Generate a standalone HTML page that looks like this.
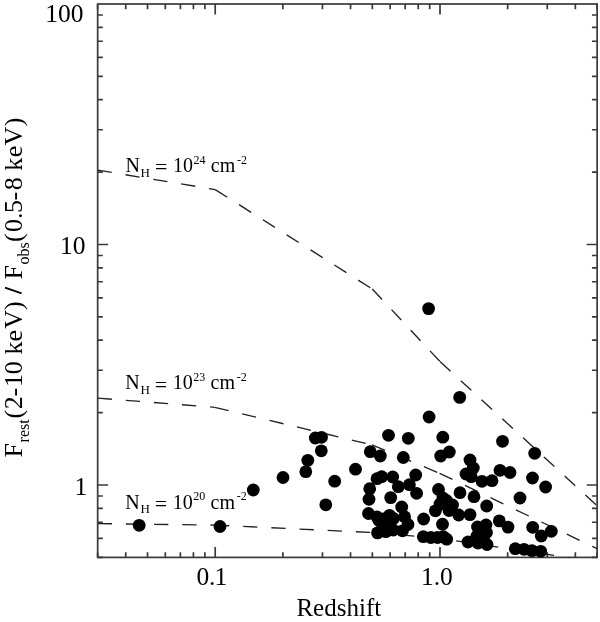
<!DOCTYPE html><html><head><meta charset="utf-8"><style>html,body{margin:0;padding:0;background:#fff;}svg{display:block;font-family:"Liberation Serif",serif;will-change:transform;}</style></head><body><div id="w"><svg width="600" height="622" viewBox="0 0 600 622"><defs><clipPath id="c"><rect x="97.65685806098008" y="4.0" width="499.4715989137569" height="553.3977139571875"/></clipPath></defs><rect width="600" height="622" fill="#fff"/><rect x="97.66" y="4.00" width="499.47" height="553.40" fill="none" stroke="#3a3a3a" stroke-width="1.7"/><path d="M97.66 557.40h5.2 M597.13 557.40h-5.2 M97.66 538.35h5.2 M597.13 538.35h-5.2 M97.66 522.25h5.2 M597.13 522.25h-5.2 M97.66 508.31h5.2 M597.13 508.31h-5.2 M97.66 496.00h5.2 M597.13 496.00h-5.2 M97.66 485.00h10.5 M597.13 485.00h-10.5 M97.66 412.60h5.2 M597.13 412.60h-5.2 M97.66 370.25h5.2 M597.13 370.25h-5.2 M97.66 340.20h5.2 M597.13 340.20h-5.2 M97.66 316.90h5.2 M597.13 316.90h-5.2 M97.66 297.85h5.2 M597.13 297.85h-5.2 M97.66 281.75h5.2 M597.13 281.75h-5.2 M97.66 267.81h5.2 M597.13 267.81h-5.2 M97.66 255.50h5.2 M597.13 255.50h-5.2 M97.66 244.50h10.5 M597.13 244.50h-10.5 M97.66 172.10h5.2 M597.13 172.10h-5.2 M97.66 129.75h5.2 M597.13 129.75h-5.2 M97.66 99.70h5.2 M597.13 99.70h-5.2 M97.66 76.40h5.2 M597.13 76.40h-5.2 M97.66 57.35h5.2 M597.13 57.35h-5.2 M97.66 41.25h5.2 M597.13 41.25h-5.2 M97.66 27.31h5.2 M597.13 27.31h-5.2 M97.66 15.00h5.2 M597.13 15.00h-5.2 M97.66 557.40v-5.2 M97.66 4.00v5.2 M125.74 557.40v-5.2 M125.74 4.00v5.2 M147.53 557.40v-5.2 M147.53 4.00v5.2 M165.33 557.40v-5.2 M165.33 4.00v5.2 M180.38 557.40v-5.2 M180.38 4.00v5.2 M193.41 557.40v-5.2 M193.41 4.00v5.2 M204.91 557.40v-5.2 M204.91 4.00v5.2 M215.20 557.40v-10.5 M215.20 4.00v10.5 M282.87 557.40v-5.2 M282.87 4.00v5.2 M322.46 557.40v-5.2 M322.46 4.00v5.2 M350.54 557.40v-5.2 M350.54 4.00v5.2 M372.33 557.40v-5.2 M372.33 4.00v5.2 M390.13 557.40v-5.2 M390.13 4.00v5.2 M405.18 557.40v-5.2 M405.18 4.00v5.2 M418.21 557.40v-5.2 M418.21 4.00v5.2 M429.71 557.40v-5.2 M429.71 4.00v5.2 M440.00 557.40v-10.5 M440.00 4.00v10.5 M507.67 557.40v-5.2 M507.67 4.00v5.2 M547.26 557.40v-5.2 M547.26 4.00v5.2 M575.34 557.40v-5.2 M575.34 4.00v5.2 M597.13 557.40v-5.2 M597.13 4.00v5.2" stroke="#3a3a3a" stroke-width="1.7" fill="none"/><path d="M97.66 170.10L215.20 189.60" stroke="#222" stroke-width="1.35" fill="none" stroke-dasharray="14.3 13.9" stroke-dashoffset="0.00" clip-path="url(#c)"/><path d="M215.20 189.60L372.30 289.00" stroke="#222" stroke-width="1.35" fill="none" stroke-dasharray="14.3 13.9" stroke-dashoffset="0.00" clip-path="url(#c)"/><path d="M372.30 289.00L440.00 361.60" stroke="#222" stroke-width="1.35" fill="none" stroke-dasharray="14.3 13.9" stroke-dashoffset="0.00" clip-path="url(#c)"/><path d="M440.00 361.60L597.13 505.80" stroke="#222" stroke-width="1.35" fill="none" stroke-dasharray="14.3 13.9" stroke-dashoffset="0.00" clip-path="url(#c)"/><path d="M97.66 398.10L214.70 407.30" stroke="#222" stroke-width="1.35" fill="none" stroke-dasharray="14.3 13.9" stroke-dashoffset="0.00" clip-path="url(#c)"/><path d="M214.70 407.30L372.00 444.90" stroke="#222" stroke-width="1.35" fill="none" stroke-dasharray="14.3 13.9" stroke-dashoffset="0.00" clip-path="url(#c)"/><path d="M372.00 444.90L439.60 473.30" stroke="#222" stroke-width="1.35" fill="none" stroke-dasharray="14.3 13.9" stroke-dashoffset="0.00" clip-path="url(#c)"/><path d="M439.60 473.30L597.13 548.70" stroke="#222" stroke-width="1.35" fill="none" stroke-dasharray="14.3 13.9" stroke-dashoffset="0.00" clip-path="url(#c)"/><path d="M97.66 523.60L215.00 525.10" stroke="#222" stroke-width="1.35" fill="none" stroke-dasharray="14.3 13.9" stroke-dashoffset="0.00" clip-path="url(#c)"/><path d="M215.00 525.10L372.00 532.50" stroke="#222" stroke-width="1.35" fill="none" stroke-dasharray="14.3 13.9" stroke-dashoffset="0.00" clip-path="url(#c)"/><path d="M372.00 532.50L440.00 538.40" stroke="#222" stroke-width="1.35" fill="none" stroke-dasharray="14.3 13.9" stroke-dashoffset="0.00" clip-path="url(#c)"/><path d="M440.00 538.40L597.13 561.80" stroke="#222" stroke-width="1.35" fill="none" stroke-dasharray="14.3 13.9" stroke-dashoffset="11.86" clip-path="url(#c)"/><g fill="#000"><circle cx="139.2" cy="525.3" r="6.4"/><circle cx="220" cy="526.5" r="6.4"/><circle cx="253.3" cy="490" r="6.4"/><circle cx="283" cy="477.5" r="6.4"/><circle cx="305.8" cy="471.7" r="6.4"/><circle cx="307.8" cy="460.3" r="6.4"/><circle cx="321.3" cy="450.8" r="6.4"/><circle cx="315.3" cy="438" r="6.4"/><circle cx="321.5" cy="437.3" r="6.4"/><circle cx="334.7" cy="481.2" r="6.4"/><circle cx="325.8" cy="504.8" r="6.4"/><circle cx="355.5" cy="469.2" r="6.4"/><circle cx="388.5" cy="435.3" r="6.4"/><circle cx="408.3" cy="438.3" r="6.4"/><circle cx="370.3" cy="451.7" r="6.4"/><circle cx="380.3" cy="456" r="6.4"/><circle cx="403.3" cy="457.5" r="6.4"/><circle cx="377" cy="478.7" r="6.4"/><circle cx="381.7" cy="476.7" r="6.4"/><circle cx="392.7" cy="477" r="6.4"/><circle cx="415.7" cy="475" r="6.4"/><circle cx="398.3" cy="486.7" r="6.4"/><circle cx="409.4" cy="484.7" r="6.4"/><circle cx="369.7" cy="488.7" r="6.4"/><circle cx="416.6" cy="493.3" r="6.4"/><circle cx="390.7" cy="497.6" r="6.4"/><circle cx="369" cy="499.3" r="6.4"/><circle cx="401.7" cy="507" r="6.4"/><circle cx="438.5" cy="489.5" r="6.4"/><circle cx="435.4" cy="510.8" r="6.4"/><circle cx="368.5" cy="513.5" r="6.4"/><circle cx="423.6" cy="519" r="6.4"/><circle cx="383.5" cy="519" r="6.4"/><circle cx="389.5" cy="515.3" r="6.4"/><circle cx="377" cy="517" r="6.4"/><circle cx="383" cy="526" r="6.4"/><circle cx="393.5" cy="518.5" r="6.4"/><circle cx="404.6" cy="516.7" r="6.4"/><circle cx="408" cy="524.5" r="6.4"/><circle cx="377.5" cy="532.9" r="6.4"/><circle cx="385.8" cy="531.7" r="6.4"/><circle cx="393.3" cy="530" r="6.4"/><circle cx="402.5" cy="530.8" r="6.4"/><circle cx="379" cy="520.5" r="6.4"/><circle cx="390" cy="521.7" r="6.4"/><circle cx="428.6" cy="308.6" r="6.4"/><circle cx="459.7" cy="397.4" r="6.4"/><circle cx="429.1" cy="417" r="6.4"/><circle cx="442.8" cy="437.2" r="6.4"/><circle cx="440.7" cy="456" r="6.4"/><circle cx="449.3" cy="452" r="6.4"/><circle cx="470" cy="460" r="6.4"/><circle cx="473.3" cy="468" r="6.4"/><circle cx="466" cy="474" r="6.4"/><circle cx="471.3" cy="476.7" r="6.4"/><circle cx="482" cy="481.3" r="6.4"/><circle cx="492" cy="480.7" r="6.4"/><circle cx="460" cy="492.7" r="6.4"/><circle cx="474" cy="496.7" r="6.4"/><circle cx="486.7" cy="506" r="6.4"/><circle cx="442.9" cy="498" r="6.4"/><circle cx="452.5" cy="505" r="6.4"/><circle cx="449" cy="510.5" r="6.4"/><circle cx="440" cy="504" r="6.4"/><circle cx="446.5" cy="500.5" r="6.4"/><circle cx="458.7" cy="515" r="6.4"/><circle cx="470" cy="514.6" r="6.4"/><circle cx="502.5" cy="441.3" r="6.4"/><circle cx="534.7" cy="453.3" r="6.4"/><circle cx="500" cy="470.3" r="6.4"/><circle cx="510" cy="472.5" r="6.4"/><circle cx="532.5" cy="478" r="6.4"/><circle cx="545.6" cy="487" r="6.4"/><circle cx="423.3" cy="536.7" r="6.4"/><circle cx="430.8" cy="537.5" r="6.4"/><circle cx="437.5" cy="537.5" r="6.4"/><circle cx="443.3" cy="536.7" r="6.4"/><circle cx="446.7" cy="539.2" r="6.4"/><circle cx="442.5" cy="524.2" r="6.4"/><circle cx="468" cy="542" r="6.4"/><circle cx="477.5" cy="527" r="6.4"/><circle cx="477" cy="536" r="6.4"/><circle cx="486" cy="525" r="6.4"/><circle cx="486.5" cy="532.5" r="6.4"/><circle cx="478" cy="543" r="6.4"/><circle cx="487" cy="544.5" r="6.4"/><circle cx="483.3" cy="540" r="6.4"/><circle cx="499.3" cy="520.9" r="6.4"/><circle cx="520" cy="498" r="6.4"/><circle cx="508" cy="527.1" r="6.4"/><circle cx="532.7" cy="527.3" r="6.4"/><circle cx="541.3" cy="536" r="6.4"/><circle cx="551.3" cy="531.3" r="6.4"/><circle cx="515.3" cy="548.7" r="6.4"/><circle cx="524" cy="549.3" r="6.4"/><circle cx="532" cy="550.7" r="6.4"/><circle cx="540.7" cy="551.3" r="6.4"/></g><path d="M5 287.6L21.6 293.3" stroke="#000" stroke-width="1.9" stroke-linecap="butt"/><g font-family="'Liberation Serif', serif" fill="#000"><text x="83.6" y="21.7" text-anchor="end" font-size="25.5">100</text><text x="85.5" y="253.6" text-anchor="end" font-size="25.5">10</text><text x="87.2" y="495" text-anchor="end" font-size="25.5">1</text><text y="584.5" font-size="25.5"><tspan x="196.4">0</tspan><tspan x="209.1">.</tspan><tspan x="214.5">1</tspan></text><text y="584.5" font-size="25.5"><tspan x="420.9">1</tspan><tspan x="433.8">.</tspan><tspan x="440.1">0</tspan></text><text x="338.8" y="616.3" text-anchor="middle" font-size="25">Redshift</text><text transform="translate(22.2,457.9) rotate(-90)"><tspan x="0.40" y="0" font-size="26">F</tspan><tspan x="15.47" y="7" font-size="16">rest</tspan><tspan x="39.33" y="0" font-size="26">(</tspan><tspan x="48.58" y="0" font-size="26">2</tspan><tspan x="61.48" y="0" font-size="26">-</tspan><tspan x="70.96" y="0" font-size="26">1</tspan><tspan x="83.75" y="0" font-size="26">0</tspan><tspan x="103.39" y="0" font-size="26">k</tspan><tspan x="116.35" y="0" font-size="26">e</tspan><tspan x="129.09" y="0" font-size="26">V</tspan><tspan x="147.99" y="0" font-size="26">)</tspan><tspan x="178.35" y="0" font-size="26">F</tspan><tspan x="193.38" y="7" font-size="16">obs</tspan><tspan x="215.93" y="0" font-size="26">(</tspan><tspan x="225.90" y="0" font-size="26">0</tspan><tspan x="238.85" y="0" font-size="26">.</tspan><tspan x="244.94" y="0" font-size="26">5</tspan><tspan x="257.53" y="0" font-size="26">-</tspan><tspan x="267.55" y="0" font-size="26">8</tspan><tspan x="287.09" y="0" font-size="26">k</tspan><tspan x="300.75" y="0" font-size="26">e</tspan><tspan x="312.29" y="0" font-size="26">V</tspan><tspan x="331.59" y="0" font-size="26">)</tspan></text><text y="171.9" font-size="20"><tspan x="125.50">N</tspan><tspan x="140.60" y="176.70000000000002" font-size="13">H</tspan><tspan x="155.00" y="174.3" font-size="22">=</tspan><tspan x="172.90" y="171.9">10</tspan><tspan x="193.40" y="163.70000000000002" font-size="12">24</tspan><tspan x="210.80" y="171.9">cm</tspan><tspan x="236.90" y="163.70000000000002" font-size="12">-2</tspan></text><text y="389.1" font-size="20"><tspan x="125.30">N</tspan><tspan x="140.40" y="393.90000000000003" font-size="13">H</tspan><tspan x="154.80" y="391.5" font-size="22">=</tspan><tspan x="172.70" y="389.1">10</tspan><tspan x="193.20" y="380.90000000000003" font-size="12">23</tspan><tspan x="210.60" y="389.1">cm</tspan><tspan x="236.70" y="380.90000000000003" font-size="12">-2</tspan></text><text y="508.6" font-size="20"><tspan x="125.30">N</tspan><tspan x="140.40" y="513.4" font-size="13">H</tspan><tspan x="154.80" y="511.0" font-size="22">=</tspan><tspan x="172.70" y="508.6">10</tspan><tspan x="193.20" y="500.40000000000003" font-size="12">20</tspan><tspan x="210.60" y="508.6">cm</tspan><tspan x="236.70" y="500.40000000000003" font-size="12">-2</tspan></text></g></svg></div></body></html>
